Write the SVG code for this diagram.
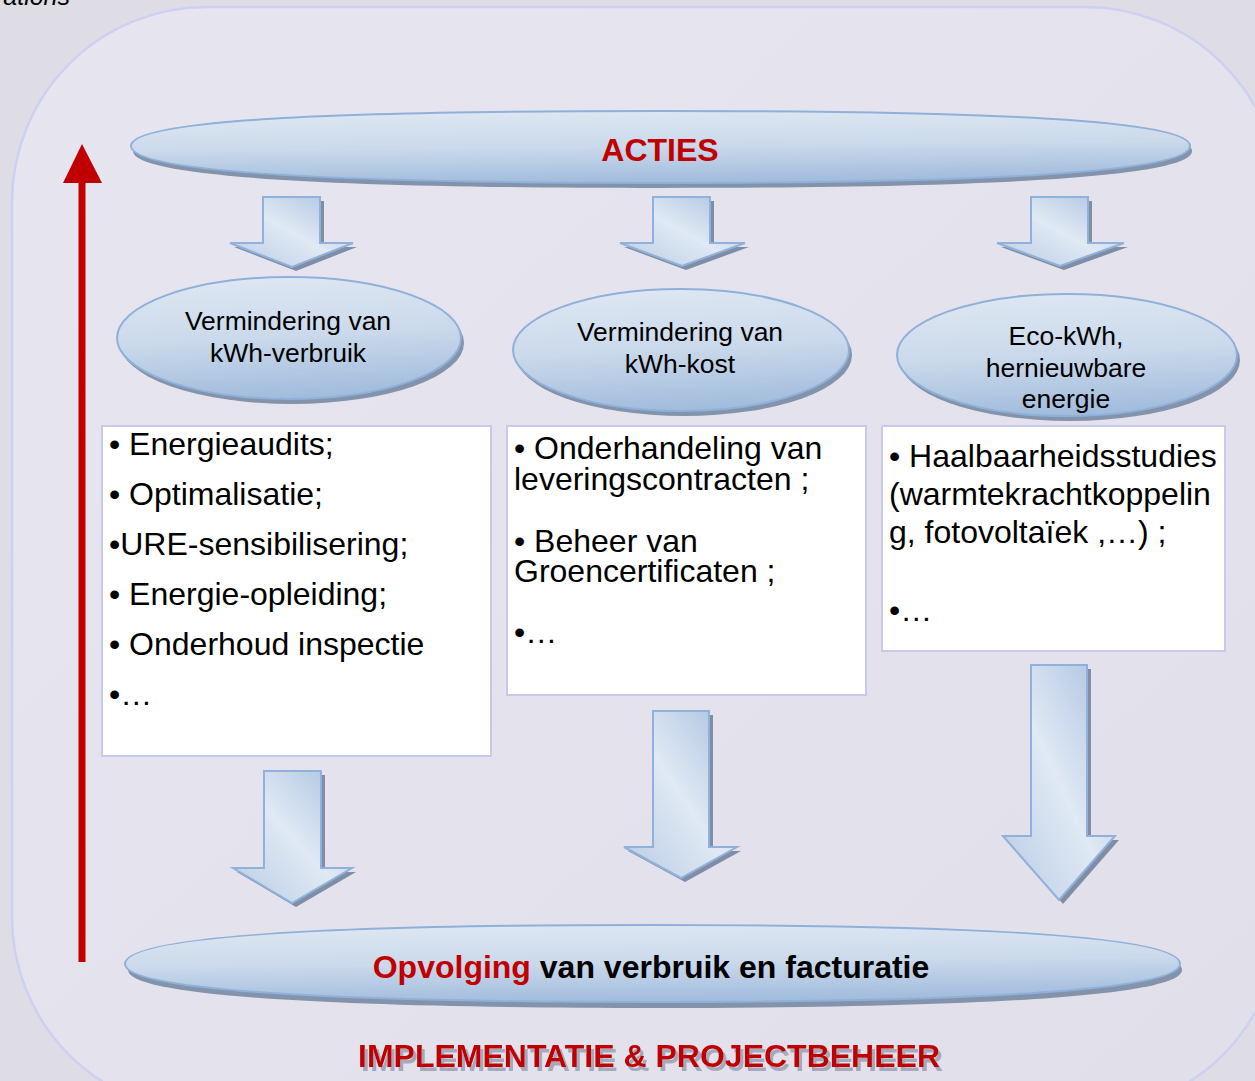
<svg xmlns="http://www.w3.org/2000/svg" width="1255" height="1081" viewBox="0 0 1255 1081">
<defs>
<linearGradient id="gEll" x1="0.35" y1="0" x2="0.5" y2="1">
<stop offset="0" stop-color="#dee7f2"/>
<stop offset="0.5" stop-color="#cad9eb"/>
<stop offset="1" stop-color="#a0bbdc"/>
</linearGradient>
<linearGradient id="gArr" x1="1" y1="0" x2="0" y2="1">
<stop offset="0" stop-color="#a8c0df"/>
<stop offset="0.5" stop-color="#e0e9f4"/>
<stop offset="1" stop-color="#b7cbe5"/>
</linearGradient>
<linearGradient id="gBg" x1="0" y1="0" x2="1" y2="1">
<stop offset="0" stop-color="#e7e6f0"/>
<stop offset="1" stop-color="#e0dfea"/>
</linearGradient>
<filter id="tsh" x="-5%" y="-30%" width="110%" height="160%">
<feDropShadow dx="3" dy="4" stdDeviation="0.6" flood-color="#9ea3b6" flood-opacity="0.9"/>
</filter>
</defs>
<style>
.ell{fill:url(#gEll);stroke:#8fb0d8;stroke-width:2}
.sh{fill:#8393ab}
.arr{fill:url(#gArr);stroke:#90b1d9;stroke-width:2}
.ash{fill:#7f8ea6}
.box{fill:#ffffff;stroke:#c9c9ee;stroke-width:2}
.lbl{font-family:"Liberation Sans",Arial,sans-serif;font-size:26.5px;fill:#000;text-anchor:middle}
.bt{font-family:"Liberation Sans",Arial,sans-serif;font-size:32px;fill:#000}
.red{fill:#c00000}
.bold{font-family:"Liberation Sans",Arial,sans-serif;font-weight:bold;font-size:32px}
</style>
<rect x="0" y="0" width="1255" height="1081" fill="#dedce4"/>
<text x="70" y="5" text-anchor="end" font-family="Liberation Sans, Arial, sans-serif" font-style="italic" font-size="25" fill="#000">ations</text>
<rect id="frame" x="12" y="7" width="1268" height="1105" rx="195" ry="195" fill="url(#gBg)" stroke="#cdd0f2" stroke-width="2.5"/>

<g id="connectors">
<path class="ash" d="M267,201 H324 V247 H357 L296,271 L234,247 H267 Z"/>
<path class="arr" d="M263,197 H320 V243 H353 L292,267 L230,243 H263 Z"/>
<path class="ash" d="M657,201 H714 V247 H749 L686,270 L624,247 H657 Z"/>
<path class="arr" d="M653,197 H710 V243 H745 L682,266 L620,243 H653 Z"/>
<path class="ash" d="M1035,201 H1092 V247 H1128 L1064,270 L1001,247 H1035 Z"/>
<path class="arr" d="M1031,197 H1088 V243 H1124 L1060,266 L997,243 H1031 Z"/>
<path class="ash" d="M268,775 H325 V872 H356 L296,907 L237,872 H268 Z"/>
<path class="arr" d="M264,771 H321 V868 H352 L292,903 L233,868 H264 Z"/>
<path class="ash" d="M657,715 H713 V851 H741 L685,882 L628,851 H657 Z"/>
<path class="arr" d="M653,711 H709 V847 H737 L681,878 L624,847 H653 Z"/>
<path class="ash" d="M1035,669 H1091 V840 H1119 L1063,904 L1007,840 H1035 Z"/>
<path class="arr" d="M1031,665 H1087 V836 H1115 L1059,900 L1003,836 H1031 Z"/>
<path d="M82,183 V962" stroke="#c00000" stroke-width="7" fill="none"/>
<polygon points="82,144 102,183 63,183" fill="#c00000"/>
</g>

<g id="acties">
<path class="sh" d="M133,151 C133,125 330,116 661,116 C992,116 1192,125 1192,151 C1192,177 992,188 661,188 C330,188 133,177 133,151 Z"/>
<path class="ell" d="M131,146 C131,120 330,111 660,111 C990,111 1190,120 1190,146 C1190,172 990,183 660,183 C330,183 131,172 131,146 Z"/>
<text class="bold red" x="660" y="161" text-anchor="middle">ACTIES</text>
</g>

<g id="e1">
<ellipse class="sh" cx="292" cy="343" rx="172" ry="61"/>
<ellipse class="ell" cx="289" cy="338" rx="172" ry="61"/>
<text class="lbl" x="288" y="330">Vermindering van</text>
<text class="lbl" x="288" y="362">kWh-verbruik</text>
</g>
<g id="e2">
<ellipse class="sh" cx="684" cy="355" rx="168" ry="61"/>
<ellipse class="ell" cx="681" cy="350" rx="168" ry="61"/>
<text class="lbl" x="680" y="341">Vermindering van</text>
<text class="lbl" x="680" y="373">kWh-kost</text>
</g>
<g id="e3">
<ellipse class="sh" cx="1070" cy="360" rx="170" ry="61"/>
<ellipse class="ell" cx="1067" cy="355" rx="170" ry="61"/>
<text class="lbl" x="1066" y="345">Eco-kWh,</text>
<text class="lbl" x="1066" y="377">hernieuwbare</text>
<text class="lbl" x="1066" y="408">energie</text>
</g>

<g id="box1">
<rect class="box" x="102" y="426" width="389" height="330"/>
<text class="bt" x="109" y="455">• Energieaudits;</text>
<text class="bt" x="109" y="505">• Optimalisatie;</text>
<text class="bt" x="109" y="555">•URE-sensibilisering;</text>
<text class="bt" x="109" y="605">• Energie-opleiding;</text>
<text class="bt" x="109" y="655">• Onderhoud inspectie</text>
<text class="bt" x="109" y="705">•…</text>
</g>
<g id="box2">
<rect class="box" x="507" y="426" width="359" height="269"/>
<text class="bt" x="514" y="459">• Onderhandeling van</text>
<text class="bt" x="514" y="490">leveringscontracten ;</text>
<text class="bt" x="514" y="552">• Beheer van</text>
<text class="bt" x="514" y="582">Groencertificaten ;</text>
<text class="bt" x="514" y="643">•…</text>
</g>
<g id="box3">
<rect class="box" x="882" y="426" width="343" height="225"/>
<text class="bt" x="889" y="467">• Haalbaarheidsstudies</text>
<text class="bt" x="889" y="505">(warmtekrachtkoppelin</text>
<text class="bt" x="889" y="543">g, fotovoltaïek ,…) ;</text>
<text class="bt" x="889" y="621">•…</text>
</g>

<g id="opvolging">
<path class="sh" d="M128,970 C128,942 330,931 654,931 C978,931 1182,942 1182,970 C1182,996 978,1008 654,1008 C330,1008 128,996 128,970 Z"/>
<path class="ell" d="M125,964 C125,936 330,925 652,925 C975,925 1180,936 1180,964 C1180,990 975,1002 652,1002 C330,1002 125,990 125,964 Z"/>
<text class="bold" x="651" y="978" text-anchor="middle"><tspan class="red">Opvolging</tspan> van verbruik en facturatie</text>
</g>

<g id="footer">
<text class="bold red" x="649" y="1067" text-anchor="middle" filter="url(#tsh)">IMPLEMENTATIE &amp; PROJECTBEHEER</text>
</g>
</svg>
